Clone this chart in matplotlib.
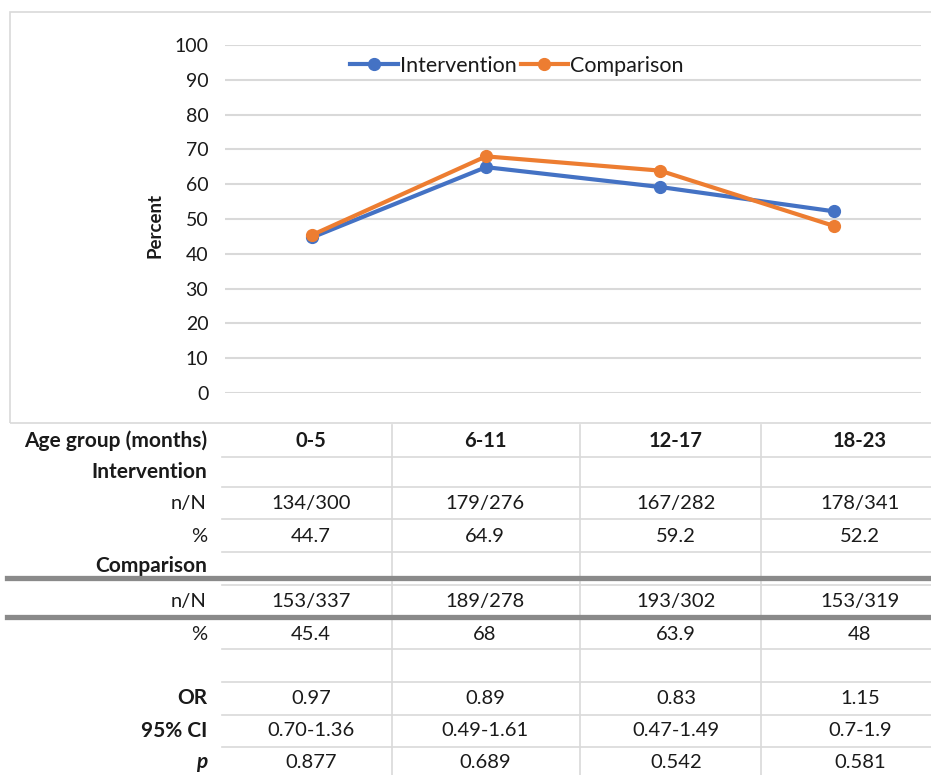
import matplotlib
matplotlib.use("Agg")
import matplotlib.pyplot as plt
from matplotlib.lines import Line2D
from matplotlib.patches import Rectangle

plt.rcParams['font.family'] = ['Lato', 'DejaVu Sans']

# ---- data ----
categories = ['0-5', '6-11', '12-17', '18-23']
intervention_pct = [44.7, 64.9, 59.2, 52.2]
comparison_pct = [45.4, 68, 63.9, 48]
intervention_nN = ['134/300', '179/276', '167/282', '178/341']
comparison_nN = ['153/337', '189/278', '193/302', '153/319']
intervention_pct_lbl = ['44.7', '64.9', '59.2', '52.2']
comparison_pct_lbl = ['45.4', '68', '63.9', '48']
odds_ratio = ['0.97', '0.89', '0.83', '1.15']
ci95 = ['0.70-1.36', '0.49-1.61', '0.47-1.49', '0.7-1.9']
p_values = ['0.877', '0.689', '0.542', '0.581']
yticks = [0, 10, 20, 30, 40, 50, 60, 70, 80, 90, 100]

W, H = 931, 775
BLUE = '#4472C4'
ORANGE = '#ED7D31'
GRID = '#d9d9d9'
TXT = '#1a1a1a'

fig = plt.figure(figsize=(W / 100, H / 100), dpi=100)

def fx(px):
    return px / W

def fy(py):
    return 1 - py / H

# chart frame
fig.add_artist(Rectangle((fx(10), fy(423)), fx(935) - fx(10), fy(12) - fy(423),
                         transform=fig.transFigure, fill=False,
                         edgecolor=GRID, lw=1.2))

# plot axes
ax = fig.add_axes([fx(225), fy(393), fx(921) - fx(225), fy(45) - fy(393)])
x = list(range(len(categories)))
ax.plot(x, intervention_pct, color=BLUE, lw=3, marker='o', ms=8.5,
        clip_on=False, label='Intervention', zorder=3)
ax.plot(x, comparison_pct, color=ORANGE, lw=3, marker='o', ms=8.5,
        clip_on=False, label='Comparison', zorder=4)
ax.set_xlim(-0.5, 3.5)
ax.set_ylim(0, 100)
ax.set_yticks(yticks)
ax.set_yticklabels([str(v) for v in yticks], fontsize=14, color=TXT)
ax.set_xticks([])
ax.tick_params(axis='y', length=0, pad=12)
ax.grid(axis='y', color=GRID, lw=1.5)
ax.set_axisbelow(True)
for s in ax.spines.values():
    s.set_visible(False)

fig.text(fx(155), fy(225), 'Percent', rotation=90, ha='center', va='center',
         fontsize=13.5, fontweight='bold', color=TXT)

fig.legend(handles=ax.get_lines(), loc='center',
           bbox_to_anchor=(fx(517), fy(66)), ncol=2, frameon=False,
           fontsize=15.5, handlelength=2.2, handletextpad=0.1,
           columnspacing=0.2, labelcolor=TXT)

# ---- table ----
xl, xr = 222, 935
for yy in [457, 487, 519, 552, 585, 649, 682, 715, 747]:
    fig.add_artist(Line2D([fx(xl), fx(xr)], [fy(yy), fy(yy)],
                          transform=fig.transFigure, color=GRID, lw=1.2))
for xx in [392, 580, 761]:
    fig.add_artist(Line2D([fx(xx), fx(xx)], [fy(425), fy(780)],
                          transform=fig.transFigure, color=GRID, lw=1.2))
for yy in [578, 617]:
    fig.add_artist(Line2D([fx(7), fx(935)], [fy(yy), fy(yy)],
                          transform=fig.transFigure, color='#8a8a8a', lw=3.8,
                          zorder=5))

col_x = [311, 485, 676, 860]
label_x = 207
rows = [
    (441, 'Age group (months)', 'bold', 'normal', categories, 'bold'),
    (472, 'Intervention', 'bold', 'normal', None, None),
    (503, 'n/N', 'normal', 'normal', intervention_nN, 'normal'),
    (537, '%', 'normal', 'normal', intervention_pct_lbl, 'normal'),
    (566, 'Comparison', 'bold', 'normal', None, None),
    (602, 'n/N', 'normal', 'normal', comparison_nN, 'normal'),
    (635, '%', 'normal', 'normal', comparison_pct_lbl, 'normal'),
    (698, 'OR', 'bold', 'normal', odds_ratio, 'normal'),
    (731, '95% CI', 'bold', 'normal', ci95, 'normal'),
    (762, 'p', 'bold', 'italic', p_values, 'normal'),
]
for yy, lab, lw_, st, vals, vw in rows:
    fs_lab = 15 if lw_ == 'bold' else 14.5
    fig.text(fx(label_x), fy(yy), lab, ha='right', va='center', fontsize=fs_lab,
             fontweight=lw_, fontstyle=st, color=TXT)
    if vals is not None:
        for cx, v in zip(col_x, vals):
            fig.text(fx(cx), fy(yy), v, ha='center', va='center', fontsize=14.5,
                     fontweight=vw, color=TXT)

fig.savefig('out.png', dpi=100)
